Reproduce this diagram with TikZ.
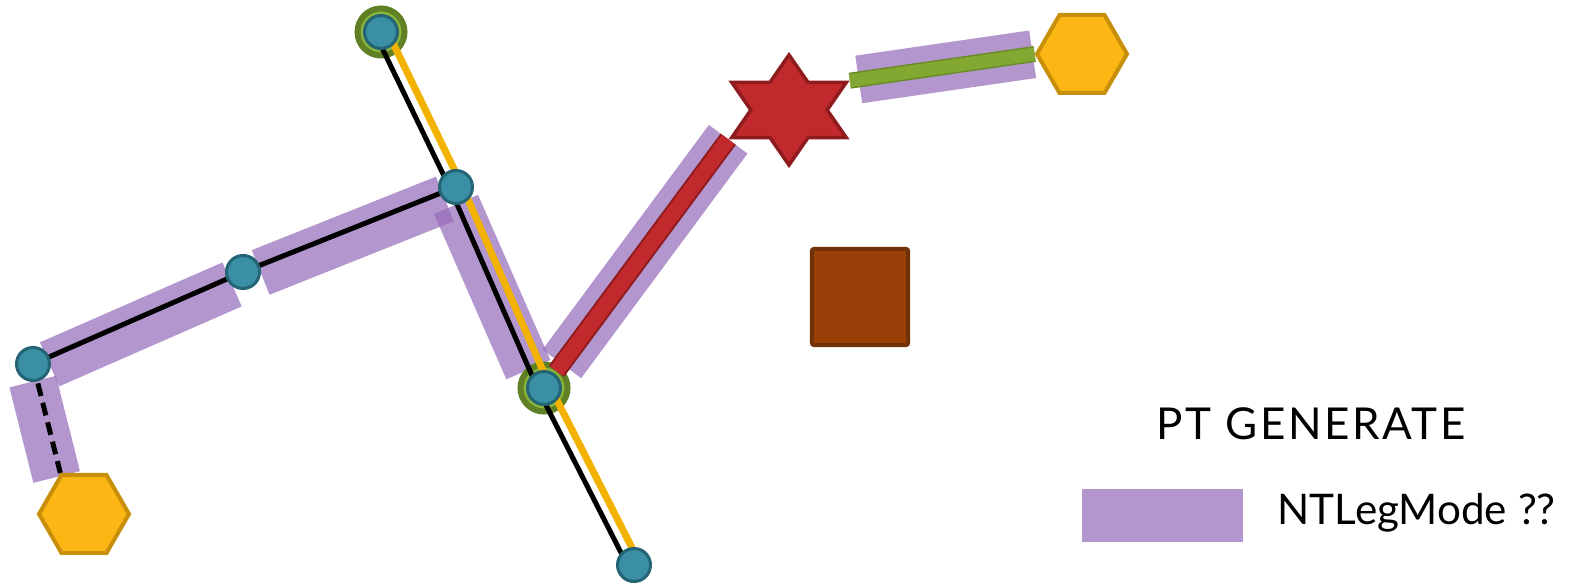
\documentclass[tikz,border=0pt]{standalone}
\usepackage{fontspec}
\setmainfont{Lato}
\usepackage{tikz}
\usetikzlibrary{
    shapes.geometric
}

\definecolor{legpurple}{RGB}{148,106,185}
\definecolor{stopfill}{RGB}{58,143,164}
\definecolor{stopdraw}{RGB}{35,101,117}
\definecolor{ringdark}{RGB}{96,128,36}
\definecolor{ringlight}{RGB}{138,180,58}
\definecolor{ptyellow}{RGB}{243,178,0}
\definecolor{hexfill}{RGB}{253,183,20}
\definecolor{hexdraw}{RGB}{200,143,10}
\definecolor{starfill}{RGB}{193,41,45}
\definecolor{stardraw}{RGB}{142,28,30}
\definecolor{sqfill}{RGB}{153,64,8}
\definecolor{sqdraw}{RGB}{112,48,8}
\definecolor{leggreen}{RGB}{130,168,50}
\definecolor{leggreendraw}{RGB}{104,140,38}

\pgfdeclarelayer{bars}
\pgfdeclarelayer{rings}
\pgfdeclarelayer{lines}
\pgfsetlayers{bars,rings,lines,main}

\tikzset{
    stop/.style={
        circle, fill=stopfill, draw=stopdraw,
        line width=0.03cm, minimum size=0.33cm, inner sep=0pt
    },
    ring/.style={
        circle, fill=ringlight, draw=ringdark,
        line width=0.06cm, minimum size=0.47cm, inner sep=0pt
    },
    hexa/.style={
        regular polygon, regular polygon sides=6,
        fill=hexfill, draw=hexdraw,
        line width=0.04cm, minimum size=0.90cm, inner sep=0pt
    },
    hexstar/.style={
        star, star points=6, star point ratio=1.732,
        fill=starfill, draw=stardraw,
        line width=0.035cm, minimum size=1.10cm, inner sep=0pt,
        xscale=1.2, transform shape
    },
    block/.style={
        rectangle, rounded corners=0.02cm, fill=sqfill, draw=sqdraw,
        line width=0.04cm, minimum size=0.96cm, inner sep=0pt
    },
    legbar/.style={
        draw=legpurple, draw opacity=0.7, line width=0.48cm
    },
    walk/.style={
        draw=black, line width=0.05cm
    },
    ptline/.style={
        draw=ptyellow, line width=0.07cm
    },
    redbar/.style={
        draw=stardraw, line width=0.02cm,
        double=starfill, double distance=0.15cm
    },
    greenbar/.style={
        draw=leggreendraw, line width=0.015cm,
        double=leggreen, double distance=0.13cm
    },
    legtext/.style={
        inner sep=0pt, font=\fontsize{12}{14}\selectfont
    }
}

\begin{document}
\begin{tikzpicture}[
    x=0.01cm,
    y=-0.01cm
]

    \useasboundingbox (0,0) rectangle (1579,586);

    % Paradas
    \node[stop]    (s0) at (33,364)   {};
    \node[stop]    (s1) at (243,272)  {};
    \node[stop]    (s2) at (456,187)  {};
    \node[stop]    (t0) at (381,32)   {};
    \node[stop]    (t1) at (544,388)  {};
    \node[stop]    (t2) at (634,565)  {};

    % Origen, destino y actividades
    \node[hexa]    (hx1) at (84,514)  {};
    \node[hexa]    (hx2) at (1082,54) {};
    \node[hexstar] (st)  at (789,110) {};
    \node[block]   (sq)  at (860,297) {};

    \begin{pgfonlayer}{rings}
        \node[ring] (t0r) at (381,32)  {};
        \node[ring] (t1r) at (544,388) {};
    \end{pgfonlayer}

    % Tramos
    \begin{pgfonlayer}{lines}
        \draw[walk] (s0.center) -- (s1.center) -- (s2.center);
        \draw[walk, dash pattern=on 0.13cm off 0.07cm] (s0.center) -- (hx1.120);
        \draw[walk, transform canvas={xshift=-0.054cm, yshift=-0.026cm}]
            (t0.center) -- (s2.center) -- (t1.center) -- (t2.center);
        \draw[ptline, transform canvas={xshift=0.054cm, yshift=0.026cm}]
            (t0.center) -- (s2.center) -- (t1.center) -- (t2.center);
        \draw[redbar, shorten <=0.21cm] (t1.center) -- (st.outer point 3);
        \draw[greenbar] (st.outer point 6) -- (hx2.180);
    \end{pgfonlayer}

    % NTLegMode
    \begin{pgfonlayer}{bars}
        \draw[legbar, shorten <=0.15cm, shorten >=0.15cm,
            transform canvas={xshift=0.028cm, yshift=-0.064cm}]
            (s0.center) -- (s1.center);
        \draw[legbar, shorten <=0.16cm, shorten >=0.15cm,
            transform canvas={xshift=0.028cm, yshift=-0.064cm}]
            (s1.center) -- (s2.center);
        \draw[legbar, shorten <=0.16cm, shorten >=0.23cm,
            transform canvas={xshift=-0.064cm, yshift=-0.028cm}]
            (s2.center) -- (t1.center);
        \draw[legbar, shorten <=0.30cm] (t1.center) -- (st.outer point 3);
        \draw[legbar, shorten <=0.09cm, shorten >=0.02cm] (st.outer point 6) -- (hx2.180);
        \draw[legbar, shorten <=0.17cm, shorten >=-0.03cm,
            transform canvas={xshift=-0.044cm, yshift=-0.011cm}]
            (s0.center) -- (hx1.120);
    \end{pgfonlayer}

    % Leyenda
    \node[legtext, anchor=base, font=\fontsize{12.5}{14}\selectfont]
        (title) at (1311,440) {\addfontfeature{LetterSpace=6}PT GENERATE};
    \node[rectangle, fill=legpurple, fill opacity=0.7,
        minimum width=1.61cm, minimum height=0.53cm, inner sep=0pt]
        (lgbox) at (1162.5,515.5) {};
    \node[legtext, anchor=base west]
        (lgtext) at (1277,525) {NTLegMode ??};

\end{tikzpicture}
\end{document}
